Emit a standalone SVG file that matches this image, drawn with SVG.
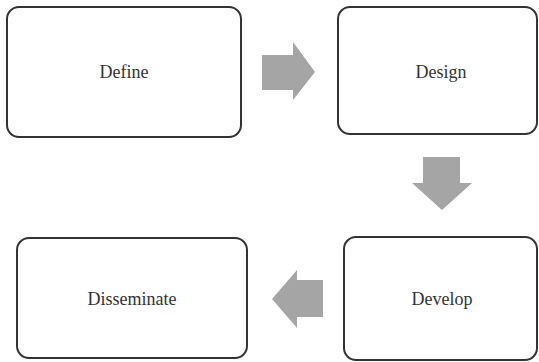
<svg xmlns="http://www.w3.org/2000/svg" width="539" height="362" viewBox="0 0 539 362">
<style>
.box{fill:#fff;stroke:#333;stroke-width:2}
.lbl{font-family:'Liberation Serif','DejaVu Serif',serif;font-size:18px;fill:#333;text-anchor:middle}
.arr{fill:#a5a5a5}
</style>
<rect width="539" height="362" fill="#fff"/>
<g id="define"><rect class="box" x="7" y="7" width="234" height="130" rx="12"/><text class="lbl" x="124" y="78">Define</text></g>
<g id="design"><rect class="box" x="338" y="7" width="199" height="127" rx="12"/><text class="lbl" x="441" y="78">Design</text></g>
<g id="develop"><rect class="box" x="344" y="237" width="193" height="123" rx="12"/><text class="lbl" x="442" y="305">Develop</text></g>
<g id="disseminate"><rect class="box" x="17" y="238" width="230" height="120" rx="12"/><text class="lbl" x="132" y="305">Disseminate</text></g>
<g id="connectors">
<polygon class="arr" points="262,55 293,55 293,42 315,72 293,100 293,90 262,90"/>
<polygon class="arr" points="423,157 460,157 460,183 472,183 442,210 412,183 423,183"/>
<polygon class="arr" points="323,280 323,317 297,317 297,328 272,299 297,270 297,280"/>
</g>
</svg>
